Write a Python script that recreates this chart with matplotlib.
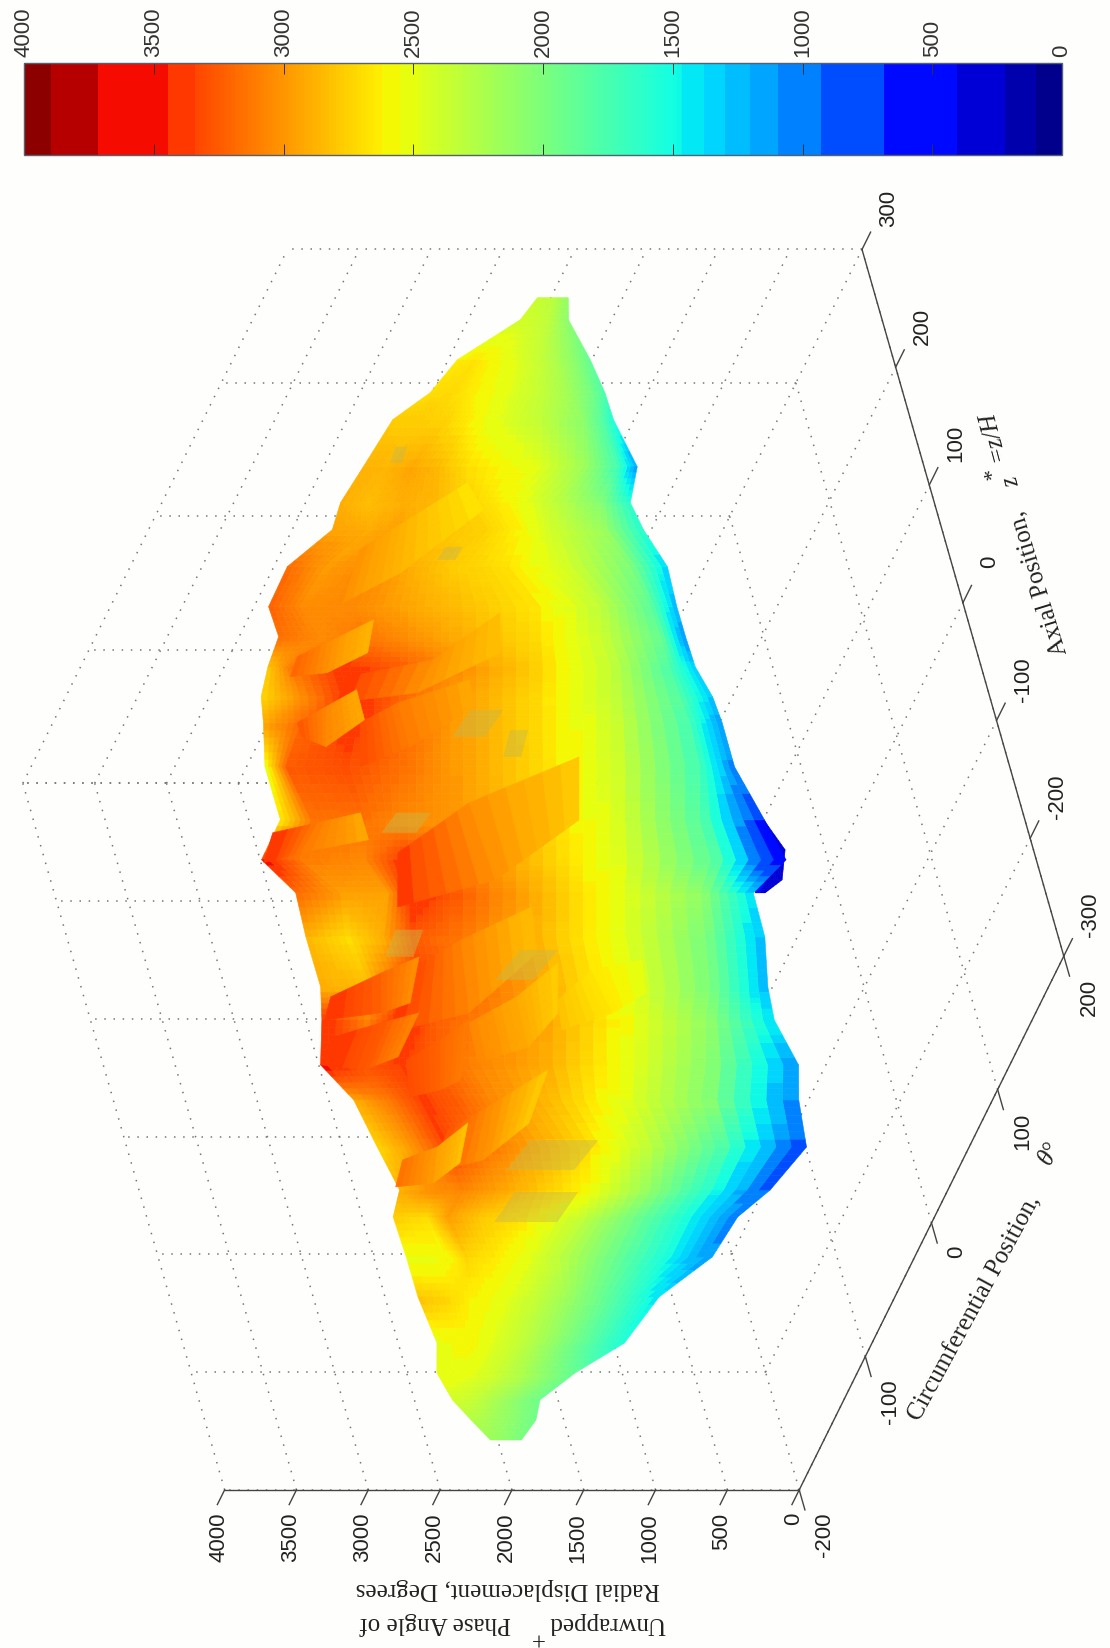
import numpy as np
import matplotlib
matplotlib.use("Agg")
from matplotlib import pyplot as plt
from matplotlib.cm import ScalarMappable
from matplotlib.colors import ListedColormap, Normalize
from mpl_toolkits.mplot3d import proj3d

theta_ticks = [-200, -100, 0, 100, 200]
axial_ticks = [-300, -200, -100, 0, 100, 200, 300]
phase_ticks = [0, 500, 1000, 1500, 2000, 2500, 3000, 3500, 4000]

# steps in the colour scale, the middle of the range stays smooth
low_band_edges = [0, 96, 218, 401, 683, 928, 1092, 1201, 1297, 1379, 1461]
mid_band_edges = [2485, 2553, 2621]
top_band_edges = [3345, 3446, 3719, 3899, 4000]

# the surface, sampled along lines of constant floor_u (floor coordinate across the part)
floor_u = [1192, 1170, 1130, 1097, 1070, 1023, 987, 960, 923, 883, 853, 823, 793, 767, 723, 670, 630,
           597, 553, 503, 470, 425, 390, 343, 300, 273, 233, 193, 147, 117, 90, 70, 50]
floor_v = [
    [76, 80, 82, 83, 85, 81, 77, 74, 71],
    [69, 75, 78, 81, 83, 82, 76, 69, 64],
    [39, 61, 67, 70, 74, 77, 77, 71, 57],
    [19, 42, 52, 59, 68, 77, 79, 71, 53],
    [-7, 20, 41, 50, 53, 72, 79, 60, 30],
    [-22, -2, 33, 48, 54, 93, 93, 62, -11],
    [-42, -27, 17, 45, 63, 80, 87, 93, 54],
    [-43, -12, 27, 39, 79, 94, 96, 110, 60],
    [-55, -46, 13, 27, 50, 87, 110, 111, 48],
    [-68, -61, -11, 25, 60, 114, 129, 110, 43],
    [-68, -41, 12, 39, 70, 120, 139, 127, 23],
    [-129, -56, 29, 68, 89, 127, 142, 115, 83],
    [-143, -61, 46, 60, 79, 121, 146, 132, 86],
    [-112, -39, 39, 60, 79, 121, 153, 128, 74],
    [-168, -47, 15, 53, 79, 123, 156, 138, 72],
    [-131, -36, 13, 39, 82, 130, 163, 152, 30],
    [-42, -54, -1, 89, 103, 136, 167, 170, 30],
    [-51, -35, 10, 106, 118, 147, 173, 196, 141],
    [-84, -66, -3, 78, 103, 144, 173, 186, 131],
    [-62, -24, 63, 109, 120, 159, 183, 191, 134],
    [14, 11, 96, 98, 119, 163, 189, 205, 162],
    [17, 32, 82, 98, 113, 157, 185, 198, 136],
    [-29, 31, 105, 118, 129, 156, 177, 196, 129],
    [-27, 42, 127, 133, 149, 169, 174, 167, 108],
    [17, 66, 99, 116, 133, 153, 147, 131, 86],
    [-11, 11, 70, 79, 102, 114, 110, 101, 75],
    [-31, 12, 56, 72, 83, 87, 86, 82, 64],
    [21, 35, 47, 60, 70, 74, 74, 70, 61],
    [-6, 21, 42, 47, 54, 55, 52, 48, 48],
    [4, 15, 25, 35, 40, 44, 45, 46, 46],
    [-2, 6, 10, 11, 12, 13, 14, 16, 18],
    [-5, 0, 4, 6, 9, 11, 12, 13, 14],
    [0, 3, 4, 5, 6, 6, 7, 8, 8],
]
phase = [
    [2350, 2350, 2340, 2320, 2300, 2250, 2200, 2150, 2100],
    [2420, 2420, 2400, 2380, 2350, 2300, 2220, 2130, 2050],
    [2650, 2680, 2620, 2530, 2460, 2370, 2270, 2090, 1850],
    [2700, 2720, 2650, 2560, 2450, 2340, 2180, 1950, 1720],
    [2780, 2780, 2750, 2640, 2520, 2350, 2050, 1800, 1500],
    [2880, 2870, 2940, 2870, 2690, 2500, 2150, 1700, 1050],
    [2900, 2830, 2900, 2860, 2750, 2640, 2340, 2030, 1550],
    [2950, 2920, 2970, 2820, 2750, 2620, 2400, 2150, 1500],
    [3180, 2980, 3080, 2900, 2780, 2690, 2430, 1950, 1250],
    [3220, 3050, 3050, 2950, 2850, 2670, 2280, 1800, 1150],
    [3150, 3050, 3140, 3050, 2920, 2710, 2350, 1850, 950],
    [2800, 3150, 3400, 3250, 3050, 2760, 2300, 1700, 1300],
    [2750, 3050, 3450, 3200, 2980, 2720, 2330, 1750, 1200],
    [2950, 3200, 3400, 3200, 2980, 2720, 2380, 1650, 1050],
    [2550, 3250, 3300, 3150, 2980, 2730, 2400, 1650, 950],
    [2700, 3150, 3150, 3050, 3000, 2780, 2450, 1750, 450],
    [3450, 3100, 3050, 3400, 3150, 2820, 2480, 1800, 300],
    [3150, 2950, 2950, 3450, 3250, 2900, 2520, 2050, 1300],
    [2850, 2700, 2900, 3250, 3150, 2880, 2520, 1950, 1150],
    [2900, 2850, 3250, 3400, 3200, 2910, 2520, 1950, 1150],
    [3420, 3100, 3450, 3250, 3120, 2940, 2560, 2080, 1300],
    [3450, 3280, 3350, 3250, 3080, 2900, 2530, 2030, 950],
    [2900, 3100, 3370, 3250, 3050, 2820, 2480, 2050, 900],
    [2750, 3000, 3350, 3150, 2980, 2700, 2320, 1750, 700],
    [2900, 3030, 3050, 2960, 2800, 2590, 2130, 1600, 800],
    [2750, 2680, 2950, 2780, 2670, 2330, 1980, 1520, 950],
    [2520, 2560, 2720, 2650, 2520, 2340, 1950, 1520, 1050],
    [2800, 2740, 2620, 2530, 2360, 2180, 1970, 1700, 1400],
    [2480, 2560, 2600, 2480, 2350, 2150, 1920, 1720, 1550],
    [2550, 2530, 2500, 2450, 2370, 2280, 2150, 2020, 1880],
    [2400, 2380, 2330, 2260, 2190, 2120, 2050, 1990, 1930],
    [2250, 2230, 2200, 2160, 2120, 2080, 2030, 1980, 1930],
    [2150, 2140, 2120, 2100, 2080, 2050, 2030, 2010, 1990],
]

# overlapping scales on the ridge: upper edge and lower edge, red end first
scale_u = [
    [[637, 687, 733], [583, 610, 670]],
    [[520, 550, 583], [457, 477, 537]],
    [[767, 787, 810], [723, 743, 783]],
    [[813, 830, 877], [787, 797, 837]],
    [[940, 970, 1007], [887, 917, 980]],
    [[467, 493, 527], [427, 443, 477]],
    [[360, 387, 420], [317, 330, 367]],
    [[430, 450, 470], [393, 400, 410]],
    [[490, 520, 530], [460, 477, 497]],
    [[767, 783, 800], [753, 743, 770]],
    [[657, 667, 677], [627, 637, 650]],
    [[493, 517, 533], [470, 477, 487]],
    [[453, 467, 477], [425, 420, 433]],
    [[330, 343, 367], [303, 307, 327]],
    [[833, 850, 870], [813, 817, 837]],
]
scale_v = [
    [[80, 101, 175], [80, 127, 175]],
    [[92, 100, 135], [71, 108, 140]],
    [[35, 44, 87], [35, 56, 92]],
    [[29, 65, 103], [19, 49, 103]],
    [[-8, 18, 49], [-25, 11, 65]],
    [[108, 134, 154], [117, 146, 154]],
    [[116, 126, 144], [97, 115, 125]],
    [[81, 101, 115], [85, 101, 107]],
    [[161, 173, 202], [165, 194, 206]],
    [[-35, -35, -26], [-31, -35, -18]],
    [[-38, -36, -22], [-47, -53, -14]],
    [[20, 42, 51], [14, 42, 42]],
    [[23, 49, 58], [10, 32, 37]],
    [[56, 62, 71], [49, 58, 63]],
    [[-42, -35, -16], [-49, -41, -22]],
]
scale_phase = [
    [3350, 3000, 2750],
    [3350, 3050, 2800],
    [3300, 3100, 2900],
    [3350, 3000, 2800],
    [3000, 2850, 2650],
    [3050, 2900, 2750],
    [3250, 3000, 2750],
    [3300, 3200, 3100],
    [2800, 2650, 2500],
    [3250, 3050, 2900],
    [3400, 3100, 2900],
    [3400, 3200, 3000],
    [3400, 3250, 3050],
    [3150, 2950, 2800],
    [3200, 3000, 2850],
]

# low lobe sticking out under the front edge
lobe_u = [668, 640, 610, 597]
lobe_v = [[24, 14, 12], [25, 26, 32], [25, 24, 29], [28, 16, 12]]
lobe_phase = [500, 380, 320]

# muddy grey-ochre patches on the surface
muddy_phase = 2700
muddy_u = [[350, 320], [298, 268], [677, 657], [560, 533], [540, 510], [780, 753], [760, 733], [943, 930], [1043, 1027]]
muddy_v = [
    [[119, 187], [95, 163]],
    [[104, 167], [83, 146]],
    [[-15, 20], [-30, 5]],
    [[-16, 12], [-26, 2]],
    [[109, 147], [84, 122]],
    [[59, 92], [41, 74]],
    [[99, 117], [92, 110]],
    [[34, 52], [26, 44]],
    [[-16, -4], [-21, -9]],
]


def stepped_jet():
    levels = np.linspace(0, 4000, 801)
    values = levels.copy()
    for edges in (low_band_edges, mid_band_edges, top_band_edges):
        for low, high in zip(edges[:-1], edges[1:]):
            inside = (levels >= low) & (levels <= high)
            values[inside] = (low + high) / 2
    return ListedColormap(plt.get_cmap("jet")(values / 4000))


def refine(table, n=6):
    # smooth shading, same as interpolated faces in the original
    table = np.asarray(table, dtype=float)
    rows, cols = table.shape
    r_new = np.linspace(0, rows - 1, (rows - 1) * n + 1)
    c_new = np.linspace(0, cols - 1, (cols - 1) * n + 1)
    by_row = np.array([np.interp(r_new, np.arange(rows), table[:, c]) for c in range(cols)]).T
    return np.array([np.interp(c_new, np.arange(cols), row) for row in by_row])


def draw_sheet(u, v, h, zorder, n=6):
    # floor_u / floor_v are a rotated frame of the floor, convert to degrees and z*
    u, v = np.asarray(u, dtype=float), np.asarray(v, dtype=float)
    theta = 0.958 * v + 0.2738 * u - 200
    axial = 0.539 * u - 1.0867 * v - 300
    X, Y, Z = refine(theta, n), refine(axial, n), refine(h, n)
    ax.plot_surface(X, Y, Z, facecolors=cmap(norm(Z)), rstride=1, cstride=1, shade=False,
                    linewidth=0.4, antialiased=True, zorder=zorder)


def tick_label(x, y, z, s, va):
    # Text3D throws away rotation, so project the anchor and write 2D text
    px, py, _ = proj3d.proj_transform(x, y, z, ax.get_proj())
    ax.text2D(px, py, s, transform=ax.transData, ha="center", va=va, rotation=90, fontsize=16, color="#222222")


plt.rcParams["font.family"] = ["Liberation Sans", "DejaVu Sans"]
bg = "#fefefc"
W, H = 1110, 1648
fig = plt.figure(figsize=(W / 100, H / 100), dpi=100, facecolor=bg)

cmap = stepped_jet()
norm = Normalize(0, 4000)

# 3D axes, the whole figure is turned a quarter with roll
S = 1356
ax = fig.add_axes([-153 / W, 82 / H, S / W, S / H], projection="3d", computed_zorder=False)
ax.set_proj_type("ortho")
ax.view_init(elev=22.1, azim=-37.2, roll=90)
ax.set_xlim(-200, 200, view_margin=0)
ax.set_ylim(-300, 300, view_margin=0)
ax.set_zlim(0, 4000, view_margin=0)
ax.set_box_aspect((840, 844, 590))
ax.set_axis_off()
ax.patch.set_alpha(0)

# dotted grid on the floor and the two back walls
grid = dict(color="#777777", ls=(0, (1, 5)), lw=1.1, zorder=1)
for t in theta_ticks:
    ax.plot([t, t], [-300, 300], [0, 0], **grid)
    ax.plot([t, t], [300, 300], [0, 4000], **grid)
for a in axial_ticks:
    ax.plot([-200, 200], [a, a], [0, 0], **grid)
    ax.plot([-200, -200], [a, a], [0, 4000], **grid)
for p in phase_ticks[1:]:
    ax.plot([-200, -200], [-300, 300], [p, p], **grid)
    ax.plot([-200, 200], [300, 300], [p, p], **grid)

# solid axis lines and ticks
solid = dict(color="#444444", lw=1.0, zorder=1)
ax.plot([-200, 200], [-300, -300], [0, 0], **solid)
ax.plot([200, 200], [-300, 300], [0, 0], **solid)
ax.plot([-200, -200], [-300, -300], [0, 4000], **solid)
for t in theta_ticks:
    ax.plot([t, t], [-300, -317], [0, 0], **solid)
    tick_label(t + 18, -340, 0, str(t), "top")
for a in axial_ticks:
    ax.plot([200, 213], [a, a], [0, 0], **solid)
    tick_label(237, a - 7, 0, str(a), "center")
for p in phase_ticks:
    ax.plot([-200, -211], [-300, -300], [p, p], **solid)
    tick_label(-212, -306, p, str(p), "top")

# surface
draw_sheet(np.repeat(np.array(lobe_u)[:, None], 3, axis=1), lobe_v, [lobe_phase] * 4, 2)
draw_sheet(np.repeat(np.array(floor_u)[:, None], 9, axis=1), floor_v, phase, 3)
for i in range(len(scale_u)):
    draw_sheet(scale_u[i], scale_v[i], [scale_phase[i], scale_phase[i]], 4 + i * 0.01)

for i in range(len(muddy_u)):
    u_edge = np.repeat(np.array(muddy_u[i])[:, None], 2, axis=1)
    v_edge = np.array(muddy_v[i], dtype=float)
    xs = 0.958 * v_edge + 0.2738 * u_edge - 200
    ys = 0.539 * u_edge - 1.0867 * v_edge - 300
    ax.plot_surface(xs, ys, np.full((2, 2), muddy_phase), color=(0.78, 0.72, 0.30, 0.45), shade=False,
                    linewidth=0, zorder=5)

# colour bar
cax = fig.add_axes([24 / W, 1 - 155 / H, 1038 / W, 92 / H])
cb = fig.colorbar(ScalarMappable(norm=norm, cmap=cmap), cax=cax, orientation="horizontal")
cax.invert_xaxis()
cb.set_ticks(phase_ticks)
cb.outline.set_edgecolor("#556070")
cb.outline.set_linewidth(1.0)
cax.tick_params(axis="x", direction="in", top=True, bottom=True, labeltop=True, labelbottom=False,
                length=8, width=0.7, color="#333333", labelrotation=90, labelsize=16, pad=4)
cax.set_xticklabels([str(p) for p in phase_ticks], color="#333333")

# axis titles, placed in figure pixels
serif = dict(family=["Liberation Serif", "DejaVu Serif"], fontsize=18, color="#222222", ha="center", va="center")


def put(x, y, s, rot, **kw):
    fig.text(x / W, 1 - y / H, s, rotation=rot, rotation_mode="anchor", **{**serif, **kw})


put(508, 1589, "Radial Displacement, Degrees", 180)
put(607, 1623, "Unwrapped", 180)
put(435, 1623, "Phase Angle of", 180)
put(537, 1636, "+", 180)
put(975, 1308, "Circumferential Position,", 61.5)
put(1050, 1153, "θ°", 61.5, style="italic")
put(1039, 583, "Axial Position,", 107)
put(1012, 482, "z", 105, style="italic")
put(993, 472, "*", 105, fontsize=16)
put(992, 436, "=z/H", 105, style="italic")

fig.savefig("out.png", dpi=100, facecolor=bg)
